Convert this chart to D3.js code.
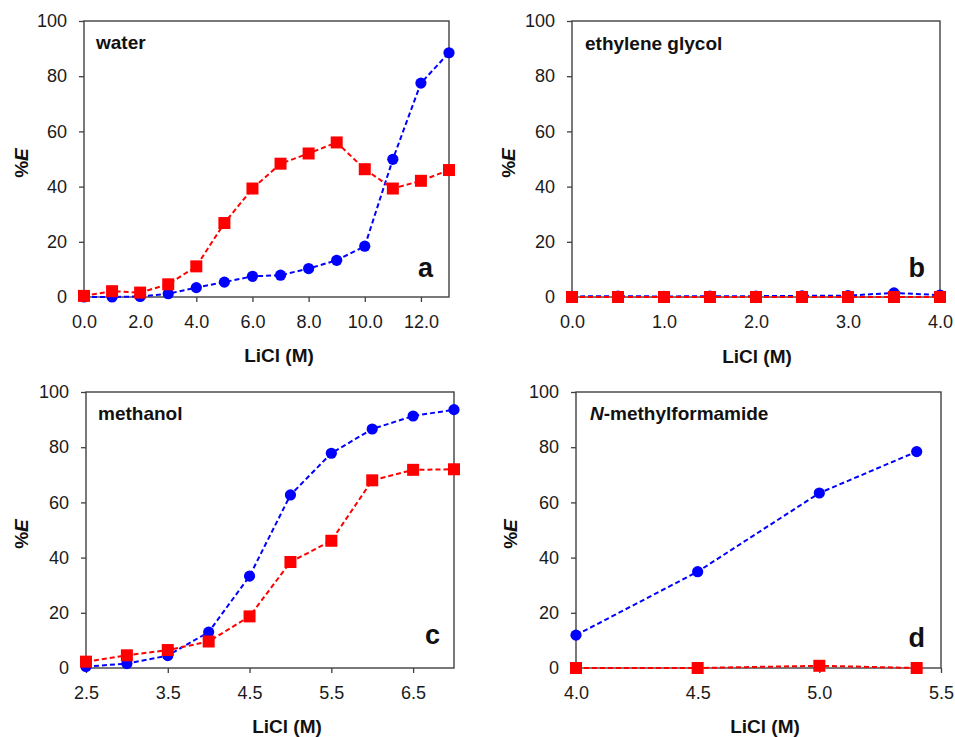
<!DOCTYPE html>
<html>
<head>
<meta charset="utf-8">
<script src="https://cdn.jsdelivr.net/npm/d3@7/dist/d3.min.js"></script>
<style>
  html, body { margin: 0; padding: 0; background: #fff; }
  svg { display: block; font-family: "Liberation Sans", Arial, sans-serif; }
</style>
</head>
<body>
<svg id="chart" width="955" height="737"></svg>
<script>
// ---------- DATA ----------
// Panel a: water
const xA = [0, 1, 2, 3, 4, 5, 6, 7, 8, 9, 10, 11, 12, 13];
const blueA = [0, 0, 0.2, 1.2, 3.4, 5.4, 7.5, 7.9, 10.3, 13.3, 18.4, 49.9, 77.5, 88.5];
const redA = [0.4, 2.1, 1.6, 4.6, 11.1, 26.8, 39.3, 48.3, 52.0, 56.0, 46.3, 39.3, 42.1, 46.0];
const xTicksA = [0, 2, 4, 6, 8, 10, 12];

// Panel b: ethylene glycol
const xB = [0, 0.5, 1.0, 1.5, 2.0, 2.5, 3.0, 3.5, 4.0];
const blueB = [0.2, 0.3, 0.2, 0.3, 0.3, 0.4, 0.5, 1.5, 0.7];
const redB = [0, 0, 0, 0, 0, 0, 0, 0, 0];
const xTicksB = [0, 1, 2, 3, 4];

// Panel c: methanol
const xC = [2.5, 3.0, 3.5, 4.0, 4.5, 5.0, 5.5, 6.0, 6.5, 7.0];
const blueC = [0.5, 1.6, 4.5, 13.0, 33.3, 62.7, 77.8, 86.6, 91.3, 93.6];
const redC = [2.3, 4.6, 6.5, 9.6, 18.7, 38.4, 46.1, 68.0, 71.8, 72.0];
const xTicksC = [2.5, 3.5, 4.5, 5.5, 6.5];

// Panel d: N-methylformamide
const xD = [4.0, 4.5, 5.0, 5.4];
const blueD = [11.9, 34.9, 63.4, 78.4];
const redD = [0, 0, 0.8, 0];
const xTicksD = [4.0, 4.5, 5.0, 5.5];

const yTicks = [0, 20, 40, 60, 80, 100];

// ---------- LAYOUT ----------
const panels = [
  { x: xA, blue: blueA, red: redA, xt: xTicksA, dom: [0, 13],
    left: 84, right: 449, top: 21, bottom: 297,
    name: [{t: "water"}], nameX: 96, nameY: 49,
    letter: "a", letterX: 433, letterY: 277,
    ylabX: 22, xtitleX: 279, xtitleY: 362 },
  { x: xB, blue: blueB, red: redB, xt: xTicksB, dom: [0, 4],
    left: 572, right: 940, top: 21, bottom: 297,
    name: [{t: "ethylene glycol"}], nameX: 585, nameY: 50,
    letter: "b", letterX: 925, letterY: 277,
    ylabX: 509, xtitleX: 757, xtitleY: 363 },
  { x: xC, blue: blueC, red: redC, xt: xTicksC, dom: [2.5, 7.0],
    left: 86, right: 454, top: 392, bottom: 668,
    name: [{t: "methanol"}], nameX: 98, nameY: 420,
    letter: "c", letterX: 440, letterY: 644,
    ylabX: 22, xtitleX: 287, xtitleY: 733 },
  { x: xD, blue: blueD, red: redD, xt: xTicksD, dom: [4.0, 5.5],
    left: 576, right: 941, top: 392, bottom: 668,
    name: [{t: "N", it: true}, {t: "-methylformamide"}], nameX: 590, nameY: 420,
    letter: "d", letterX: 925, letterY: 647,
    ylabX: 511, xtitleX: 765, xtitleY: 733 }
];

const svg = d3.select("#chart");
const AX = "#404040";
const BLUE = "#0000ff";
const RED = "#ff0000";

panels.forEach(p => {
  const xs = d3.scaleLinear().domain(p.dom).range([p.left, p.right]);
  const ys = d3.scaleLinear().domain([0, 100]).range([p.bottom, p.top]);
  const g = svg.append("g");

  // plot box
  g.append("rect")
    .attr("x", p.left).attr("y", p.top)
    .attr("width", p.right - p.left).attr("height", p.bottom - p.top)
    .attr("fill", "none").attr("stroke", AX).attr("stroke-width", 1.4);

  // y axis
  const ya = g.append("g").attr("transform", `translate(${p.left},0)`)
    .call(d3.axisLeft(ys).tickValues(yTicks).tickSize(5).tickPadding(12).tickFormat(d3.format("d")));
  ya.select(".domain").remove();
  ya.selectAll("line").attr("stroke", AX).attr("stroke-width", 1.3);
  ya.selectAll("text").attr("font-size", 18).attr("fill", "#1a1a1a")
    .attr("font-family", "Liberation Sans, Arial, sans-serif");

  // x axis
  const xa = g.append("g").attr("transform", `translate(0,${p.bottom})`)
    .call(d3.axisBottom(xs).tickValues(p.xt).tickSize(5).tickPadding(13).tickFormat(d3.format(".1f")));
  xa.select(".domain").remove();
  xa.selectAll("line").attr("stroke", AX).attr("stroke-width", 1.3);
  xa.selectAll("text").attr("font-size", 18).attr("fill", "#1a1a1a")
    .attr("font-family", "Liberation Sans, Arial, sans-serif");

  const lineGen = d3.line().x(d => xs(d[0])).y(d => ys(d[1]));
  const bluePts = p.x.map((v, i) => [v, p.blue[i]]);
  const redPts = p.x.map((v, i) => [v, p.red[i]]);

  g.append("path").datum(bluePts).attr("d", lineGen)
    .attr("fill", "none").attr("stroke", BLUE).attr("stroke-width", 2).attr("stroke-dasharray", "5,3");
  g.append("path").datum(redPts).attr("d", lineGen)
    .attr("fill", "none").attr("stroke", RED).attr("stroke-width", 2).attr("stroke-dasharray", "5,3");

  g.selectAll("circle.b").data(bluePts).enter().append("circle")
    .attr("cx", d => xs(d[0])).attr("cy", d => ys(d[1])).attr("r", 5.6)
    .attr("fill", BLUE);
  g.selectAll("rect.r").data(redPts).enter().append("rect")
    .attr("x", d => xs(d[0]) - 6).attr("y", d => ys(d[1]) - 6)
    .attr("width", 12).attr("height", 12).attr("fill", RED);

  // solvent name
  const nt = g.append("text").attr("x", p.nameX).attr("y", p.nameY)
    .attr("font-size", 19).attr("font-weight", "bold").attr("fill", "#111");
  p.name.forEach(s => {
    nt.append("tspan").text(s.t).attr("font-style", s.it ? "italic" : "normal");
  });

  // panel letter
  g.append("text").attr("x", p.letterX).attr("y", p.letterY)
    .attr("text-anchor", "end").attr("font-size", 27).attr("font-weight", "bold")
    .attr("fill", "#111").text(p.letter);

  // y title
  const cy = (p.top + p.bottom) / 2 + 4;
  const yt = g.append("text")
    .attr("transform", `translate(${p.ylabX + 6},${cy}) rotate(-90)`)
    .attr("text-anchor", "middle").attr("font-size", 19).attr("font-weight", "bold").attr("fill", "#111");
  yt.append("tspan").text("%");
  yt.append("tspan").attr("font-style", "italic").text("E");

  // x title
  g.append("text").attr("x", p.xtitleX).attr("y", p.xtitleY)
    .attr("text-anchor", "middle").attr("font-size", 19).attr("font-weight", "bold")
    .attr("fill", "#111").text("LiCl (M)");
});
</script>
</body>
</html>
